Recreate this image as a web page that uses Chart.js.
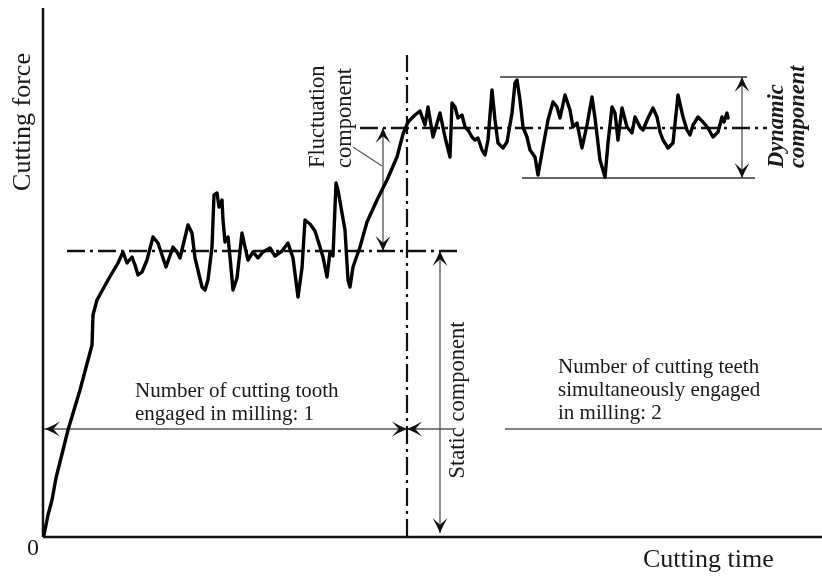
<!DOCTYPE html>
<html><head><meta charset="utf-8">
<script src="https://cdn.jsdelivr.net/npm/chart.js@4"></script>
<style>html,body{margin:0;padding:0;background:#fff}canvas{display:block}</style>
</head><body>
<canvas id="c" width="822" height="576" style="width:822px;height:576px"></canvas>
<script>
// Cutting force signal (time, force)
const timeVals = [1,5,9,13,17,25,37,49,50,54,65,75,80,84,89,92,95,99,104,110,115,123,130,134,137,145,149,152,159,162,165,169,171,174,176,179,180,182,185,187,190,194,199,202,205,210,215,220,227,232,239,245,250,255,259,262,267,272,277,280,284,287,290,293,295,299,302,305,307,310,317,324,334,344,354,360,365,372,377,382,385,390,397,402,407,409,412,415,419,422,425,429,432,435,439,442,445,449,452,455,460,464,469,472,474,477,480,484,487,492,495,500,505,510,514,517,522,527,530,534,539,544,549,552,557,562,565,569,572,575,579,584,589,592,597,600,605,610,614,617,620,625,630,635,640,644,647,650,655,660,665,670,675,679,681,684,685];
const forceVals = [2,22,37,59,75,107,147,192,222,237,257,274,285,274,280,272,262,265,277,300,294,270,290,285,279,312,304,279,250,247,257,290,342,344,330,337,317,295,300,280,247,259,304,290,277,285,279,285,289,281,286,294,279,240,269,317,313,306,290,280,260,285,281,354,347,324,307,257,250,270,290,315,337,357,380,403,415,422,426,412,430,400,424,400,380,434,430,419,422,410,407,400,397,399,387,382,397,447,417,394,389,395,424,454,457,437,410,400,387,380,362,390,417,435,430,419,442,427,410,414,389,412,440,419,377,360,394,430,424,397,429,410,404,420,410,407,419,429,420,405,397,389,394,442,420,407,402,412,420,415,409,400,405,420,415,424,419];

// Axis extents
const timeMax = 779, forceMax = 529;
// Reference levels
const staticLevel1 = 286, staticLevel2 = 409;
const level1Span = [24, 415], level2Span = [317, 724];
const boundaryTime = 364, boundaryTop = 482;
const dynTop = 460, dynBottom = 359;
const dynTopSpan = [457, 704], dynBottomSpan = [479, 712], dynArrowTime = 699;
const flucArrowTime = 340, flucLeader = [[310, 390], [339, 371]];
const staticArrowTime = 397, staticArrowBottom = 4;
const toothLevel = 108;
const toothSegs = [[0, boundaryTime], [boundaryTime, 410], [462, timeMax]];

const seg = (pts) => pts.map(p => ({x: p[0], y: p[1]}));
const BLACK = '#111', GRAY = '#555';
const dashDot = [18, 5, 3, 5];

const datasets = [];
function addLine(pts, color, width, dash) {
  datasets.push({data: seg(pts), borderColor: color, borderWidth: width, borderDash: dash || [],
    pointRadius: 0, fill: false, tension: 0, clip: false, borderCapStyle: 'butt'});
}
// curve
datasets.push({data: timeVals.map((t, i) => ({x: t, y: forceVals[i]})), borderColor: '#000', borderWidth: 3.4,
  pointRadius: 0, fill: false, tension: 0, clip: false, borderJoinStyle: 'round', borderCapStyle: 'round'});
// axes
addLine([[0, 0], [0, forceMax]], BLACK, 2.5);
addLine([[0, 0], [timeMax, 0]], BLACK, 2.5);
// dash-dot levels
addLine([[level1Span[0], staticLevel1], [level1Span[1], staticLevel1]], BLACK, 2.5, dashDot);
addLine([[level2Span[0], staticLevel2], [level2Span[1], staticLevel2]], BLACK, 2.5, dashDot);
addLine([[boundaryTime, 0], [boundaryTime, boundaryTop]], BLACK, 2.2, dashDot);
// dynamic bounds
addLine([[dynTopSpan[0], dynTop], [dynTopSpan[1], dynTop]], '#333', 1.3);
addLine([[dynBottomSpan[0], dynBottom], [dynBottomSpan[1], dynBottom]], '#333', 1.3);
// arrow shafts
addLine([[dynArrowTime, dynTop], [dynArrowTime, dynBottom]], GRAY, 1.3);
addLine([[flucArrowTime, staticLevel2], [flucArrowTime, staticLevel1]], GRAY, 1.3);
addLine(flucLeader, GRAY, 1.2);
addLine([[staticArrowTime, staticLevel1], [staticArrowTime, staticArrowBottom]], GRAY, 1.3);
toothSegs.forEach(s => addLine([[s[0], toothLevel], [s[1], toothLevel]], GRAY, 1.3));

function head(ctx, x, y, dx, dy) {
  const L = 15, W = 7.5, N = 0.55;
  const px = -dy, py = dx;
  ctx.beginPath();
  ctx.moveTo(x, y);
  ctx.quadraticCurveTo(x - 0.6 * L * dx + 0.5 * W * px, y - 0.6 * L * dy + 0.5 * W * py,
                       x - L * dx + W * px, y - L * dy + W * py);
  ctx.lineTo(x - N * L * dx, y - N * L * dy);
  ctx.lineTo(x - L * dx - W * px, y - L * dy - W * py);
  ctx.quadraticCurveTo(x - 0.6 * L * dx - 0.5 * W * px, y - 0.6 * L * dy - 0.5 * W * py, x, y);
  ctx.closePath();
  ctx.fill();
}

const annot = {
  id: 'annot',
  afterDatasetsDraw(chart) {
    const ctx = chart.ctx, xs = chart.scales.x, ys = chart.scales.y;
    const X = v => xs.getPixelForValue(v), Y = v => ys.getPixelForValue(v);
    ctx.save();
    ctx.fillStyle = BLACK;
    // arrow heads
    head(ctx, X(0) + 2, Y(toothLevel), -1, 0);
    head(ctx, X(boundaryTime), Y(toothLevel), 1, 0);
    head(ctx, X(boundaryTime), Y(toothLevel), -1, 0);
    head(ctx, X(staticArrowTime), Y(staticLevel1), 0, -1);
    head(ctx, X(staticArrowTime), Y(staticArrowBottom), 0, 1);
    head(ctx, X(flucArrowTime), Y(staticLevel2), 0, -1);
    head(ctx, X(flucArrowTime), Y(staticLevel1), 0, 1);
    head(ctx, X(dynArrowTime), Y(dynTop), 0, -1);
    head(ctx, X(dynArrowTime), Y(dynBottom), 0, 1);

    ctx.fillStyle = '#1a1a1a';
    const serif = '"Liberation Serif", "Times New Roman", serif';
    function txt(s, x, y, size, align, rot, style, base) {
      ctx.save();
      ctx.translate(x, y);
      if (rot) ctx.rotate(-Math.PI / 2);
      ctx.font = (style || '') + ' ' + size + 'px ' + serif;
      ctx.textAlign = align;
      ctx.textBaseline = base || 'middle';
      ctx.fillText(s, 0, 0);
      ctx.restore();
    }
    txt('Cutting force', 23, 122, 26, 'center', true);
    txt('0', 33, 549, 24, 'center');
    txt('Cutting time', 643, 560, 26, 'left');
    txt('Number of cutting tooth', 135, 397, 21, 'left', false, '', 'alphabetic');
    txt('engaged in milling: 1', 135, 420, 21, 'left', false, '', 'alphabetic');
    txt('Number of cutting teeth', 558, 373, 21, 'left', false, '', 'alphabetic');
    txt('simultaneously engaged', 558, 396, 21, 'left', false, '', 'alphabetic');
    txt('in milling: 2', 558, 419, 21, 'left', false, '', 'alphabetic');
    txt('Static component', 458, 400, 22.5, 'center', true);
    txt('Fluctuation', 318, 168, 22.5, 'left', true);
    txt('component', 345, 168, 22.5, 'left', true);
    txt('Dynamic', 777, 168, 22.5, 'left', true, 'italic bold');
    txt('component', 798, 168, 22.5, 'left', true, 'italic bold');
    ctx.restore();
  }
};

new Chart(document.getElementById('c'), {
  type: 'line',
  data: {datasets},
  options: {
    responsive: false, animation: false, devicePixelRatio: 1,
    layout: {padding: {left: 43, right: 0, top: 8, bottom: 39}},
    plugins: {legend: {display: false}, tooltip: {enabled: false}},
    scales: {
      x: {type: 'linear', min: 0, max: timeMax, display: false},
      y: {type: 'linear', min: 0, max: forceMax, display: false}
    }
  },
  plugins: [annot]
});
</script>
</body></html>
